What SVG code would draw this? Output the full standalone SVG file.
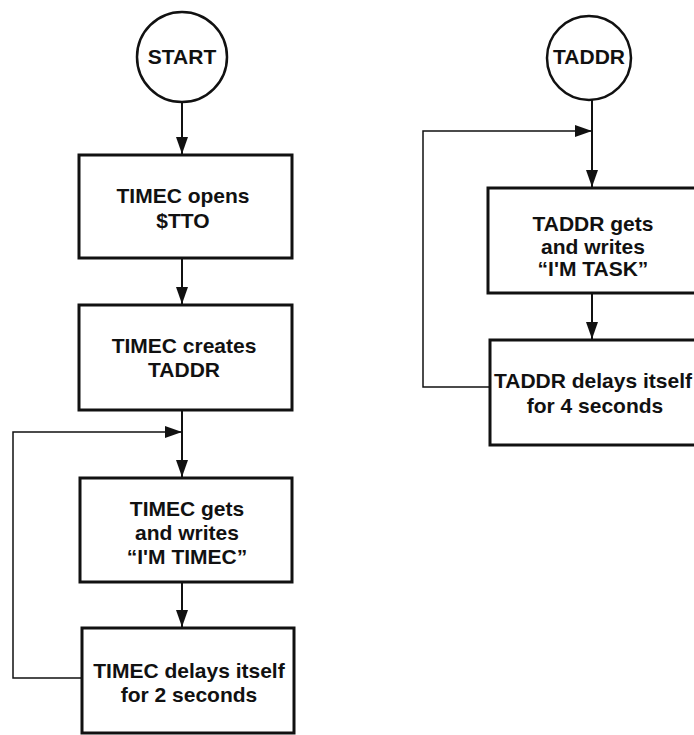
<svg xmlns="http://www.w3.org/2000/svg" width="694" height="735" viewBox="0 0 694 735">
<defs>
<marker id="ah" markerWidth="17" markerHeight="12" refX="17" refY="6" orient="auto" markerUnits="userSpaceOnUse">
<path d="M0,0 L17,6 L0,12 Z" fill="#111"/>
</marker>
<style>
.box{fill:#fff;stroke:#111;stroke-width:3}
.circ{fill:#fff;stroke:#111;stroke-width:2.5}
.t{font-family:"Liberation Sans",Arial,sans-serif;font-size:21px;font-weight:bold;fill:#111;text-anchor:middle}
.ln{fill:none;stroke:#111;stroke-width:2}
.loop{fill:none;stroke:#111;stroke-width:1.5}
</style>
</defs>
<rect width="694" height="735" fill="#fff"/>
<g id="connectors">
<line class="ln" x1="182" y1="102" x2="182" y2="154" marker-end="url(#ah)"/>
<line class="ln" x1="182" y1="258" x2="182" y2="304" marker-end="url(#ah)"/>
<line class="ln" x1="182" y1="410" x2="182" y2="477" marker-end="url(#ah)"/>
<line class="ln" x1="182" y1="582" x2="182" y2="627" marker-end="url(#ah)"/>
<polyline class="loop" points="82,678 13,678 13,432 182,432" marker-end="url(#ah)"/>
<line class="ln" x1="592" y1="100" x2="592" y2="187" marker-end="url(#ah)"/>
<line class="ln" x1="592" y1="293" x2="592" y2="339" marker-end="url(#ah)"/>
<polyline class="loop" points="490,387 423,387 423,131 592,131" marker-end="url(#ah)"/>
</g>
<g id="start">
<circle class="circ" cx="182" cy="57" r="45"/>
<text class="t" x="182" y="64">START</text>
</g>
<g id="opens">
<rect class="box" x="79" y="155" width="213" height="103"/>
<text class="t" x="183" y="203">TIMEC opens</text>
<text class="t" x="183" y="228">$TTO</text>
</g>
<g id="creates">
<rect class="box" x="79" y="305" width="213" height="105"/>
<text class="t" x="184" y="353">TIMEC creates</text>
<text class="t" x="184" y="377">TADDR</text>
</g>
<g id="timec-writes">
<rect class="box" x="80" y="478" width="212" height="104"/>
<text class="t" x="187" y="516">TIMEC gets</text>
<text class="t" x="187" y="540">and writes</text>
<text class="t" x="187" y="564">“I'M TIMEC”</text>
</g>
<g id="timec-delay">
<rect class="box" x="82" y="628" width="212" height="105"/>
<text class="t" x="189" y="678">TIMEC delays itself</text>
<text class="t" x="189" y="702">for 2 seconds</text>
</g>
<g id="taddr">
<circle class="circ" cx="589" cy="58" r="42"/>
<text class="t" x="589" y="64">TADDR</text>
</g>
<g id="taddr-writes">
<rect class="box" x="488" y="188" width="214" height="105"/>
<text class="t" x="593" y="231">TADDR gets</text>
<text class="t" x="593" y="254">and writes</text>
<text class="t" x="593" y="276">“I'M TASK”</text>
</g>
<g id="taddr-delay">
<rect class="box" x="490" y="340" width="214" height="105"/>
<text class="t" x="593" y="388">TADDR delays itself</text>
<text class="t" x="595" y="413">for 4 seconds</text>
</g>
</svg>
